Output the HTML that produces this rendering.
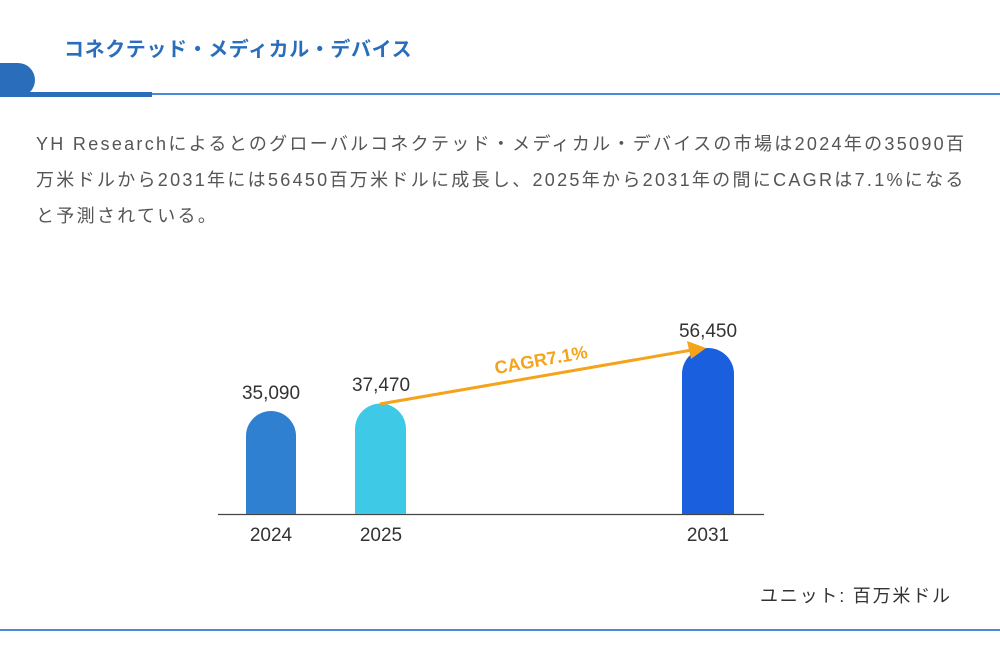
<!DOCTYPE html>
<html><head><meta charset="utf-8"><style>
body{margin:0;width:1000px;height:646px;background:#fff;position:relative;overflow:hidden;font-family:"Liberation Sans","Noto Sans CJK JP",sans-serif}
.t{position:absolute;left:64px;top:33px;font-size:20px;font-weight:bold;color:#2a6ebb;letter-spacing:0.6px;white-space:nowrap}
.p{position:absolute;left:36px;top:126px;font-size:18px;line-height:36px;color:#555;letter-spacing:2.3px;white-space:nowrap}
.u{position:absolute;left:760px;top:582px;font-size:18px;color:#333;letter-spacing:1.8px;white-space:nowrap}
</style></head><body>
<div class="t">コネクテッド・メディカル・デバイス</div>
<svg width="1000" height="646" style="position:absolute;left:0;top:0">
<path d="M0 63 H18 A17 17 0 0 1 18 97 H0 Z" fill="#2a6ebb"/>
<rect x="0" y="92" width="152" height="5" fill="#2a6ebb"/>
<rect x="152" y="93" width="848" height="2" fill="#4a8ad6"/>
<rect x="0" y="629" width="1000" height="2" fill="#4a8ad6"/>
<line x1="218" y1="514.5" x2="764" y2="514.5" stroke="#444" stroke-width="1.2"/>
<path d="M246 514 V436 A25 25 0 0 1 296 436 V514 Z" fill="#2f80d1"/>
<path d="M355 514 V429 A25.5 25.5 0 0 1 406 429 V514 Z" fill="#3ec9e6"/>
<path d="M682 514 V374 A26 26 0 0 1 734 374 V514 Z" fill="#1a5fde"/>
<line x1="380" y1="404" x2="692" y2="350" stroke="#f5a31a" stroke-width="3"/>
<polygon points="706,348 687,341 691,359" fill="#f5a31a"/>
<text x="541" y="366" transform="rotate(-10 541 360)" font-size="18" font-weight="bold" fill="#f5a31a" text-anchor="middle" font-family="Liberation Sans,sans-serif">CAGR7.1%</text>
<g font-size="19" fill="#333" text-anchor="middle" font-family="Liberation Sans,sans-serif">
<text x="271" y="399">35,090</text>
<text x="381" y="391">37,470</text>
<text x="708" y="337">56,450</text>
<text x="271" y="541">2024</text>
<text x="381" y="541">2025</text>
<text x="708" y="541">2031</text>
</g>
</svg>
<div class="p">YH Researchによるとのグローバルコネクテッド・メディカル・デバイスの市場は2024年の35090百<br>万米ドルから2031年には56450百万米ドルに成長し、2025年から2031年の間にCAGRは7.1%になる<br>と予測されている。</div>
<div class="u">ユニット: 百万米ドル</div>
</body></html>
